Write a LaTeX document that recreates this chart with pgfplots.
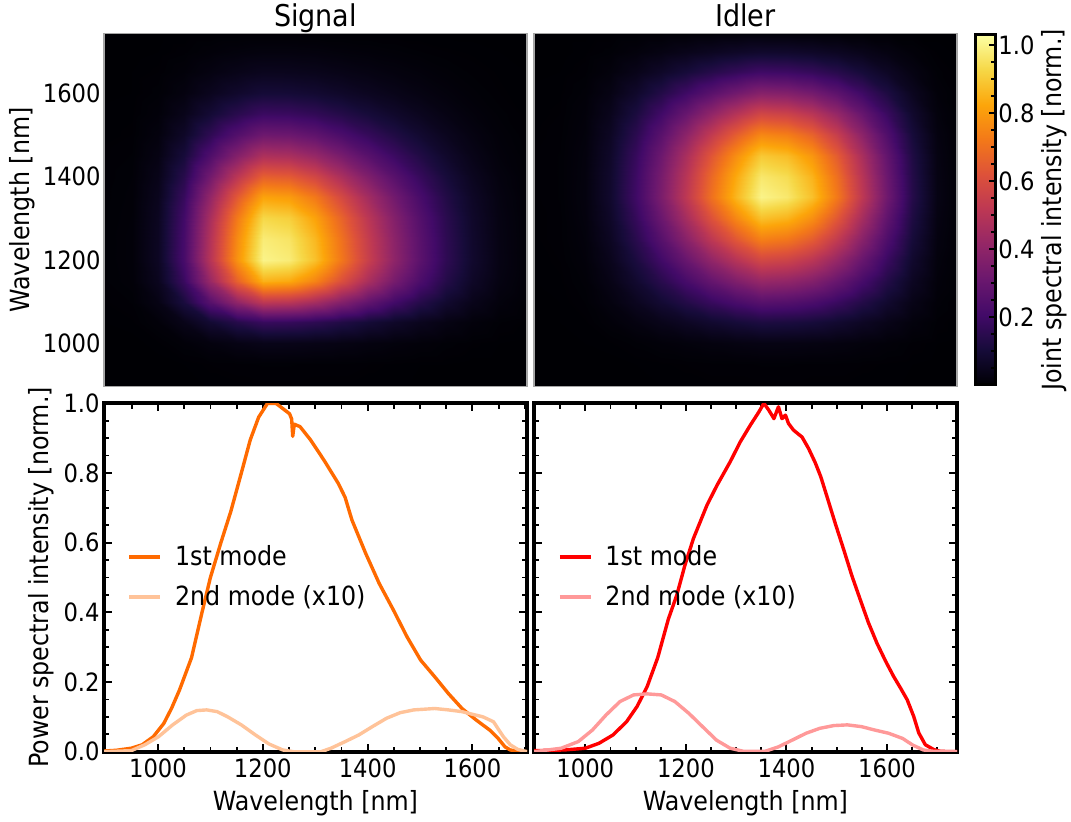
\documentclass[border=0pt]{standalone}
\usepackage{pgfplots}
\pgfplotsset{compat=1.18}
\usepackage{pgfplotstable}
\usepackage{fontspec}
\setmainfont{DejaVu Sans Condensed}
\definecolor{sigA}{RGB}{255,106,0}
\definecolor{sigB}{RGB}{255,195,153}
\definecolor{idlA}{RGB}{255,0,0}
\definecolor{idlB}{RGB}{255,153,153}
\newcommand{\tickfont}{\fontsize{12.6}{15}\selectfont}
\newcommand{\labfont}{\fontsize{13.2}{15}\selectfont}
\newcommand{\titfont}{\fontsize{15}{18}\selectfont}
\pgfplotsset{
  colormap={inferno}{rgb255=(0,0,4) rgb255=(22,11,57) rgb255=(66,10,104) rgb255=(106,23,110) rgb255=(147,38,103) rgb255=(188,55,84) rgb255=(221,81,58) rgb255=(243,120,25) rgb255=(252,165,10) rgb255=(246,215,70) rgb255=(252,255,164)},
  /pgf/number format/assume math mode=true,
  /pgf/number format/1000 sep={},
  heat/.style={
    view={0}{90}, scale only axis, width=211.5pt, height=176.7pt,
    enlargelimits=false, axis on top,
    ymin=896, ymax=1744, zmin=0, zmax=1.03, xtick=\empty, ztick=\empty,
    point meta min=0, point meta max=1.03, colormap name=inferno,
    axis line style={draw=black!35, line width=0.6pt},
    major tick length=0pt, minor tick length=0pt,
    tick label style={font=\tickfont},
    yticklabel style={inner xsep=1.5pt},
    every axis title/.style={at={(axis description cs:0.5,1)}, anchor=base, yshift=3.3pt, font=\titfont},
    every axis y label/.style={at={(axis description cs:-0.193,0.5)}, rotate=90, anchor=center, font=\labfont},
  },
  spec/.style={
    scale only axis, width=211.5pt, height=174.2pt,
    enlargelimits=false,
    ymin=0, ymax=1,
    xtick={1000,1200,1400,1600}, minor xtick={900,950,...,1750},
    ytick={0,0.2,0.4,0.6,0.8,1}, minor ytick={0,0.05,...,1},
    tick pos=both, tick align=inside,
    axis line style={line width=2pt, black},
    major tick style={line width=1pt, draw=black}, minor tick style={line width=0.9pt, draw=black},
    major tick length=3.8pt, minor tick length=2.6pt,
    tick label style={font=\tickfont},
    yticklabel style={/pgf/number format/.cd, fixed, fixed zerofill, precision=1, /tikz/.cd, inner xsep=2pt},
    xlabel={Wavelength [nm]},
    every axis x label/.style={at={(axis description cs:0.5,-0.170)}, anchor=base, font=\labfont},
    every axis y label/.style={at={(axis description cs:-0.148,0.5)}, rotate=90, anchor=center, font=\labfont},
    legend cell align=left,
    legend image code/.code={\draw[#1] (0pt,0pt) -- (15.5pt,0pt);},
    every axis plot/.append style={line width=1.7pt, line join=round},
  },
}
\begin{document}
\pgfplotstableread[row sep=\\]{
x y z\\
850 850 0\\ 950 850 0\\ 1000 850 0\\ 1050 850 0\\ 1100 850 0\\ 1150 850 0\\ 1200 850 0\\ 1250 850 0\\ 1300 850 0\\ 1350 850 0\\ 1400 850 0\\ 1450 850 0\\ 1500 850 0\\ 1550 850 0\\ 1600 850 0\\ 1650 850 0\\ 1700 850 0\\ 1750 850 0\\
850 950 0\\ 950 950 0\\ 1000 950 0\\ 1050 950 0.001\\ 1100 950 0.003\\ 1150 950 0.004\\ 1200 950 0.005\\ 1250 950 0.005\\ 1300 950 0.004\\ 1350 950 0.004\\ 1400 950 0.003\\ 1450 950 0.002\\ 1500 950 0.001\\ 1550 950 0.001\\ 1600 950 0\\ 1650 950 0\\ 1700 950 0\\ 1750 950 0\\
850 1000 0\\ 950 1000 0\\ 1000 1000 0.002\\ 1050 1000 0.009\\ 1100 1000 0.020\\ 1150 1000 0.031\\ 1200 1000 0.040\\ 1250 1000 0.039\\ 1300 1000 0.035\\ 1350 1000 0.029\\ 1400 1000 0.022\\ 1450 1000 0.016\\ 1500 1000 0.011\\ 1550 1000 0.006\\ 1600 1000 0.003\\ 1650 1000 0.001\\ 1700 1000 0\\ 1750 1000 0\\
850 1050 0\\ 950 1050 0.002\\ 1000 1050 0.011\\ 1050 1050 0.040\\ 1100 1050 0.090\\ 1150 1050 0.140\\ 1200 1050 0.180\\ 1250 1050 0.176\\ 1300 1050 0.158\\ 1350 1050 0.130\\ 1400 1050 0.099\\ 1450 1050 0.072\\ 1500 1050 0.049\\ 1550 1050 0.029\\ 1600 1050 0.014\\ 1650 1050 0.005\\ 1700 1050 0.002\\ 1750 1050 0\\
850 1100 0\\ 950 1100 0.005\\ 1000 1100 0.031\\ 1050 1100 0.114\\ 1100 1100 0.260\\ 1150 1100 0.406\\ 1200 1100 0.520\\ 1250 1100 0.510\\ 1300 1100 0.458\\ 1350 1100 0.374\\ 1400 1100 0.286\\ 1450 1100 0.208\\ 1500 1100 0.140\\ 1550 1100 0.083\\ 1600 1100 0.042\\ 1650 1100 0.016\\ 1700 1100 0.005\\ 1750 1100 0\\
850 1150 0\\ 950 1150 0.009\\ 1000 1150 0.051\\ 1050 1150 0.187\\ 1100 1150 0.425\\ 1150 1150 0.663\\ 1200 1150 0.850\\ 1250 1150 0.833\\ 1300 1150 0.748\\ 1350 1150 0.612\\ 1400 1150 0.468\\ 1450 1150 0.340\\ 1500 1150 0.230\\ 1550 1150 0.136\\ 1600 1150 0.068\\ 1650 1150 0.026\\ 1700 1150 0.009\\ 1750 1150 0\\
850 1200 0\\ 950 1200 0.010\\ 1000 1200 0.060\\ 1050 1200 0.220\\ 1100 1200 0.500\\ 1150 1200 0.780\\ 1200 1200 1.000\\ 1250 1200 0.980\\ 1300 1200 0.880\\ 1350 1200 0.720\\ 1400 1200 0.550\\ 1450 1200 0.400\\ 1500 1200 0.270\\ 1550 1200 0.160\\ 1600 1200 0.080\\ 1650 1200 0.030\\ 1700 1200 0.010\\ 1750 1200 0\\
850 1250 0\\ 950 1250 0.010\\ 1000 1250 0.059\\ 1050 1250 0.216\\ 1100 1250 0.490\\ 1150 1250 0.764\\ 1200 1250 0.980\\ 1250 1250 0.960\\ 1300 1250 0.862\\ 1350 1250 0.706\\ 1400 1250 0.539\\ 1450 1250 0.392\\ 1500 1250 0.265\\ 1550 1250 0.157\\ 1600 1250 0.078\\ 1650 1250 0.029\\ 1700 1250 0.010\\ 1750 1250 0\\
850 1300 0\\ 950 1300 0.009\\ 1000 1300 0.056\\ 1050 1300 0.205\\ 1100 1300 0.465\\ 1150 1300 0.725\\ 1200 1300 0.930\\ 1250 1300 0.911\\ 1300 1300 0.818\\ 1350 1300 0.670\\ 1400 1300 0.512\\ 1450 1300 0.372\\ 1500 1300 0.251\\ 1550 1300 0.149\\ 1600 1300 0.074\\ 1650 1300 0.028\\ 1700 1300 0.009\\ 1750 1300 0\\
850 1350 0\\ 950 1350 0.008\\ 1000 1350 0.049\\ 1050 1350 0.180\\ 1100 1350 0.410\\ 1150 1350 0.640\\ 1200 1350 0.820\\ 1250 1350 0.804\\ 1300 1350 0.722\\ 1350 1350 0.590\\ 1400 1350 0.451\\ 1450 1350 0.328\\ 1500 1350 0.221\\ 1550 1350 0.131\\ 1600 1350 0.066\\ 1650 1350 0.025\\ 1700 1350 0.008\\ 1750 1350 0\\
850 1400 0\\ 950 1400 0.007\\ 1000 1400 0.040\\ 1050 1400 0.145\\ 1100 1400 0.330\\ 1150 1400 0.515\\ 1200 1400 0.660\\ 1250 1400 0.647\\ 1300 1400 0.581\\ 1350 1400 0.475\\ 1400 1400 0.363\\ 1450 1400 0.264\\ 1500 1400 0.178\\ 1550 1400 0.106\\ 1600 1400 0.053\\ 1650 1400 0.020\\ 1700 1400 0.007\\ 1750 1400 0\\
850 1450 0\\ 950 1450 0.005\\ 1000 1450 0.029\\ 1050 1450 0.106\\ 1100 1450 0.240\\ 1150 1450 0.374\\ 1200 1450 0.480\\ 1250 1450 0.470\\ 1300 1450 0.422\\ 1350 1450 0.346\\ 1400 1450 0.264\\ 1450 1450 0.192\\ 1500 1450 0.130\\ 1550 1450 0.077\\ 1600 1450 0.038\\ 1650 1450 0.014\\ 1700 1450 0.005\\ 1750 1450 0\\
850 1500 0\\ 950 1500 0.003\\ 1000 1500 0.019\\ 1050 1500 0.070\\ 1100 1500 0.160\\ 1150 1500 0.250\\ 1200 1500 0.320\\ 1250 1500 0.314\\ 1300 1500 0.282\\ 1350 1500 0.230\\ 1400 1500 0.176\\ 1450 1500 0.128\\ 1500 1500 0.086\\ 1550 1500 0.051\\ 1600 1500 0.026\\ 1650 1500 0.010\\ 1700 1500 0.003\\ 1750 1500 0\\
850 1550 0\\ 950 1550 0.002\\ 1000 1550 0.011\\ 1050 1550 0.042\\ 1100 1550 0.095\\ 1150 1550 0.148\\ 1200 1550 0.190\\ 1250 1550 0.186\\ 1300 1550 0.167\\ 1350 1550 0.137\\ 1400 1550 0.105\\ 1450 1550 0.076\\ 1500 1550 0.051\\ 1550 1550 0.030\\ 1600 1550 0.015\\ 1650 1550 0.006\\ 1700 1550 0.002\\ 1750 1550 0\\
850 1600 0\\ 950 1600 0.001\\ 1000 1600 0.006\\ 1050 1600 0.022\\ 1100 1600 0.050\\ 1150 1600 0.078\\ 1200 1600 0.100\\ 1250 1600 0.098\\ 1300 1600 0.088\\ 1350 1600 0.072\\ 1400 1600 0.055\\ 1450 1600 0.040\\ 1500 1600 0.027\\ 1550 1600 0.016\\ 1600 1600 0.008\\ 1650 1600 0.003\\ 1700 1600 0.001\\ 1750 1600 0\\
850 1650 0\\ 950 1650 0.001\\ 1000 1650 0.003\\ 1050 1650 0.011\\ 1100 1650 0.025\\ 1150 1650 0.039\\ 1200 1650 0.050\\ 1250 1650 0.049\\ 1300 1650 0.044\\ 1350 1650 0.036\\ 1400 1650 0.028\\ 1450 1650 0.020\\ 1500 1650 0.014\\ 1550 1650 0.008\\ 1600 1650 0.004\\ 1650 1650 0.002\\ 1700 1650 0.001\\ 1750 1650 0\\
850 1700 0\\ 950 1700 0\\ 1000 1700 0.001\\ 1050 1700 0.004\\ 1100 1700 0.010\\ 1150 1700 0.016\\ 1200 1700 0.020\\ 1250 1700 0.020\\ 1300 1700 0.018\\ 1350 1700 0.014\\ 1400 1700 0.011\\ 1450 1700 0.008\\ 1500 1700 0.005\\ 1550 1700 0.003\\ 1600 1700 0.002\\ 1650 1700 0.001\\ 1700 1700 0\\ 1750 1700 0\\
850 1750 0\\ 950 1750 0\\ 1000 1750 0\\ 1050 1750 0\\ 1100 1750 0\\ 1150 1750 0\\ 1200 1750 0\\ 1250 1750 0\\ 1300 1750 0\\ 1350 1750 0\\ 1400 1750 0\\ 1450 1750 0\\ 1500 1750 0\\ 1550 1750 0\\ 1600 1750 0\\ 1650 1750 0\\ 1700 1750 0\\ 1750 1750 0\\
}\sigtab
\pgfplotstableread[row sep=\\]{
x y z\\
850 850 0\\ 950 850 0\\ 1000 850 0\\ 1050 850 0\\ 1100 850 0\\ 1150 850 0\\ 1200 850 0\\ 1250 850 0\\ 1300 850 0\\ 1350 850 0\\ 1400 850 0\\ 1450 850 0\\ 1500 850 0\\ 1550 850 0\\ 1600 850 0\\ 1650 850 0\\ 1700 850 0\\ 1750 850 0\\
850 950 0\\ 950 950 0\\ 1000 950 0\\ 1050 950 0\\ 1100 950 0.001\\ 1150 950 0.002\\ 1200 950 0.003\\ 1250 950 0.004\\ 1300 950 0.004\\ 1350 950 0.005\\ 1400 950 0.005\\ 1450 950 0.004\\ 1500 950 0.004\\ 1550 950 0.003\\ 1600 950 0.002\\ 1650 950 0.001\\ 1700 950 0\\ 1750 950 0\\
850 1000 0\\ 950 1000 0\\ 1000 1000 0.001\\ 1050 1000 0.002\\ 1100 1000 0.006\\ 1150 1000 0.011\\ 1200 1000 0.016\\ 1250 1000 0.021\\ 1300 1000 0.026\\ 1350 1000 0.030\\ 1400 1000 0.029\\ 1450 1000 0.026\\ 1500 1000 0.022\\ 1550 1000 0.016\\ 1600 1000 0.010\\ 1650 1000 0.004\\ 1700 1000 0.001\\ 1750 1000 0\\
850 1050 0\\ 950 1050 0.001\\ 1000 1050 0.002\\ 1050 1050 0.010\\ 1100 1050 0.024\\ 1150 1050 0.042\\ 1200 1050 0.062\\ 1250 1050 0.084\\ 1300 1050 0.103\\ 1350 1050 0.120\\ 1400 1050 0.116\\ 1450 1050 0.106\\ 1500 1050 0.086\\ 1550 1050 0.062\\ 1600 1050 0.038\\ 1650 1050 0.017\\ 1700 1050 0.004\\ 1750 1050 0\\
850 1100 0\\ 950 1100 0.001\\ 1000 1100 0.005\\ 1050 1100 0.021\\ 1100 1100 0.052\\ 1150 1100 0.091\\ 1200 1100 0.135\\ 1250 1100 0.182\\ 1300 1100 0.224\\ 1350 1100 0.260\\ 1400 1100 0.252\\ 1450 1100 0.229\\ 1500 1100 0.187\\ 1550 1100 0.135\\ 1600 1100 0.083\\ 1650 1100 0.036\\ 1700 1100 0.008\\ 1750 1100 0\\
850 1150 0\\ 950 1150 0.002\\ 1000 1150 0.008\\ 1050 1150 0.034\\ 1100 1150 0.084\\ 1150 1150 0.147\\ 1200 1150 0.218\\ 1250 1150 0.294\\ 1300 1150 0.361\\ 1350 1150 0.420\\ 1400 1150 0.407\\ 1450 1150 0.370\\ 1500 1150 0.302\\ 1550 1150 0.218\\ 1600 1150 0.134\\ 1650 1150 0.059\\ 1700 1150 0.013\\ 1750 1150 0\\
850 1200 0\\ 950 1200 0.003\\ 1000 1200 0.012\\ 1050 1200 0.046\\ 1100 1200 0.116\\ 1150 1200 0.203\\ 1200 1200 0.302\\ 1250 1200 0.406\\ 1300 1200 0.499\\ 1350 1200 0.580\\ 1400 1200 0.563\\ 1450 1200 0.510\\ 1500 1200 0.418\\ 1550 1200 0.302\\ 1600 1200 0.186\\ 1650 1200 0.081\\ 1700 1200 0.017\\ 1750 1200 0\\
850 1250 0\\ 950 1250 0.004\\ 1000 1250 0.015\\ 1050 1250 0.059\\ 1100 1250 0.148\\ 1150 1250 0.259\\ 1200 1250 0.385\\ 1250 1250 0.518\\ 1300 1250 0.636\\ 1350 1250 0.740\\ 1400 1250 0.718\\ 1450 1250 0.651\\ 1500 1250 0.533\\ 1550 1250 0.385\\ 1600 1250 0.237\\ 1650 1250 0.104\\ 1700 1250 0.022\\ 1750 1250 0\\
850 1300 0\\ 950 1300 0.004\\ 1000 1300 0.018\\ 1050 1300 0.070\\ 1100 1300 0.176\\ 1150 1300 0.308\\ 1200 1300 0.458\\ 1250 1300 0.616\\ 1300 1300 0.757\\ 1350 1300 0.880\\ 1400 1300 0.854\\ 1450 1300 0.774\\ 1500 1300 0.634\\ 1550 1300 0.458\\ 1600 1300 0.282\\ 1650 1300 0.123\\ 1700 1300 0.026\\ 1750 1300 0\\
850 1350 0\\ 950 1350 0.005\\ 1000 1350 0.020\\ 1050 1350 0.080\\ 1100 1350 0.200\\ 1150 1350 0.350\\ 1200 1350 0.520\\ 1250 1350 0.700\\ 1300 1350 0.860\\ 1350 1350 1.000\\ 1400 1350 0.970\\ 1450 1350 0.880\\ 1500 1350 0.720\\ 1550 1350 0.520\\ 1600 1350 0.320\\ 1650 1350 0.140\\ 1700 1350 0.030\\ 1750 1350 0\\
850 1400 0\\ 950 1400 0.005\\ 1000 1400 0.019\\ 1050 1400 0.078\\ 1100 1400 0.194\\ 1150 1400 0.340\\ 1200 1400 0.504\\ 1250 1400 0.679\\ 1300 1400 0.834\\ 1350 1400 0.970\\ 1400 1400 0.941\\ 1450 1400 0.854\\ 1500 1400 0.698\\ 1550 1400 0.504\\ 1600 1400 0.310\\ 1650 1400 0.136\\ 1700 1400 0.029\\ 1750 1400 0\\
850 1450 0\\ 950 1450 0.005\\ 1000 1450 0.018\\ 1050 1450 0.072\\ 1100 1450 0.180\\ 1150 1450 0.315\\ 1200 1450 0.468\\ 1250 1450 0.630\\ 1300 1450 0.774\\ 1350 1450 0.900\\ 1400 1450 0.873\\ 1450 1450 0.792\\ 1500 1450 0.648\\ 1550 1450 0.468\\ 1600 1450 0.288\\ 1650 1450 0.126\\ 1700 1450 0.027\\ 1750 1450 0\\
850 1500 0\\ 950 1500 0.004\\ 1000 1500 0.015\\ 1050 1500 0.061\\ 1100 1500 0.152\\ 1150 1500 0.266\\ 1200 1500 0.395\\ 1250 1500 0.532\\ 1300 1500 0.654\\ 1350 1500 0.760\\ 1400 1500 0.737\\ 1450 1500 0.669\\ 1500 1500 0.547\\ 1550 1500 0.395\\ 1600 1500 0.243\\ 1650 1500 0.106\\ 1700 1500 0.023\\ 1750 1500 0\\
850 1550 0\\ 950 1550 0.003\\ 1000 1550 0.012\\ 1050 1550 0.046\\ 1100 1550 0.116\\ 1150 1550 0.203\\ 1200 1550 0.302\\ 1250 1550 0.406\\ 1300 1550 0.499\\ 1350 1550 0.580\\ 1400 1550 0.563\\ 1450 1550 0.510\\ 1500 1550 0.418\\ 1550 1550 0.302\\ 1600 1550 0.186\\ 1650 1550 0.081\\ 1700 1550 0.017\\ 1750 1550 0\\
850 1600 0\\ 950 1600 0.002\\ 1000 1600 0.008\\ 1050 1600 0.030\\ 1100 1600 0.076\\ 1150 1600 0.133\\ 1200 1600 0.198\\ 1250 1600 0.266\\ 1300 1600 0.327\\ 1350 1600 0.380\\ 1400 1600 0.369\\ 1450 1600 0.334\\ 1500 1600 0.274\\ 1550 1600 0.198\\ 1600 1600 0.122\\ 1650 1600 0.053\\ 1700 1600 0.011\\ 1750 1600 0\\
850 1650 0\\ 950 1650 0.001\\ 1000 1650 0.004\\ 1050 1650 0.016\\ 1100 1650 0.040\\ 1150 1650 0.070\\ 1200 1650 0.104\\ 1250 1650 0.140\\ 1300 1650 0.172\\ 1350 1650 0.200\\ 1400 1650 0.194\\ 1450 1650 0.176\\ 1500 1650 0.144\\ 1550 1650 0.104\\ 1600 1650 0.064\\ 1650 1650 0.028\\ 1700 1650 0.006\\ 1750 1650 0\\
850 1700 0\\ 950 1700 0\\ 1000 1700 0.002\\ 1050 1700 0.006\\ 1100 1700 0.016\\ 1150 1700 0.028\\ 1200 1700 0.042\\ 1250 1700 0.056\\ 1300 1700 0.069\\ 1350 1700 0.080\\ 1400 1700 0.078\\ 1450 1700 0.070\\ 1500 1700 0.058\\ 1550 1700 0.042\\ 1600 1700 0.026\\ 1650 1700 0.011\\ 1700 1700 0.002\\ 1750 1700 0\\
850 1750 0\\ 950 1750 0\\ 1000 1750 0\\ 1050 1750 0\\ 1100 1750 0\\ 1150 1750 0\\ 1200 1750 0\\ 1250 1750 0\\ 1300 1750 0\\ 1350 1750 0\\ 1400 1750 0\\ 1450 1750 0\\ 1500 1750 0\\ 1550 1750 0\\ 1600 1750 0\\ 1650 1750 0\\ 1700 1750 0\\ 1750 1750 0\\
}\idltab
\begin{tikzpicture}
\path[use as bounding box] (0,0) rectangle (535.5pt,410.5pt);
% Signal heatmap
\begin{axis}[heat, at={(52pt,217.2pt)}, anchor=south west,
  xmin=897, xmax=1704, ytick={1000,1200,1400,1600},
  title={Signal}, ylabel={Wavelength [nm]}]
\addplot3[surf, shader=interp, mesh/cols=18] table {\sigtab};
\end{axis}
% Idler heatmap with colorbar
\begin{axis}[heat, at={(267pt,217.2pt)}, anchor=south west,
  xmin=898, xmax=1739, ytick=\empty, title={Idler},
  colorbar, colorbar shift/.style={xshift=9pt, yshift=-0.85pt},
  colorbar style={
    at={(parent axis.north east)}, anchor=north west, axis on top,
    scale only axis, width=10pt, height=175pt,
    ytick={0.2,0.4,0.6,0.8,1}, minor ytick={0.05,0.1,...,1.0},
    ytick pos=right, yticklabel pos=right, tick align=inside,
    major tick length=3.2pt, minor tick length=2pt,
    major tick style={line width=0.9pt, draw=black}, minor tick style={line width=0.8pt, draw=black},
    axis line style={line width=1.5pt, draw=black},
    yticklabel style={font=\tickfont, /pgf/number format/.cd, fixed, fixed zerofill, precision=1, /tikz/.cd, inner xsep=1.5pt},
    ylabel={Joint spectral intensity [norm.]},
    every axis y label/.style={at={(axis description cs:3.95,0.5)}, rotate=90, anchor=center, font=\labfont},
  }]
\addplot3[surf, shader=interp, mesh/cols=18] table {\idltab};
\end{axis}
% Signal spectra
\begin{axis}[spec, at={(52pt,34.65pt)}, anchor=south west,
  xmin=897, xmax=1704,
  ylabel={Power spectral intensity [norm.]},
  legend style={draw=none, fill=none, inner sep=0pt, at={(axis description cs:0.055,0.501)}, anchor=west,
    font=\labfont, row sep={20pt,between origins}, column sep=5.5pt, nodes={inner sep=1pt}}]
\addplot[color=sigA] coordinates {
(897,0.002)(920,0.004)(949,0.010)(970,0.020)(991,0.043)(1011,0.081)(1026,0.125)(1041,0.177)(1064,0.27)(1084,0.40)(1100,0.50)(1120,0.60)(1139,0.69)(1159,0.80)(1176,0.895)(1192,0.96)(1209,1.0)(1225,1.0)(1238,0.985)(1251,0.97)(1255,0.955)(1257,0.905)(1260,0.94)(1271,0.933)(1291,0.895)(1317,0.836)(1344,0.77)(1357,0.73)(1370,0.665)(1396,0.57)(1422,0.483)(1449,0.407)(1475,0.33)(1501,0.263)(1528,0.215)(1554,0.167)(1580,0.124)(1607,0.091)(1633,0.062)(1649,0.038)(1662,0.014)(1672,0.005)(1690,0.001)(1704,0.0)
};
\addlegendentry{1st mode}
\addplot[color=sigB] coordinates {
(897,0.0)(949,0.003)(975,0.02)(1001,0.043)(1028,0.077)(1054,0.105)(1074,0.118)(1093,0.12)(1113,0.115)(1133,0.10)(1159,0.077)(1186,0.048)(1212,0.022)(1238,0.005)(1258,0.0)(1311,0.0)(1330,0.01)(1357,0.029)(1383,0.048)(1409,0.072)(1436,0.096)(1462,0.112)(1488,0.12)(1528,0.124)(1554,0.12)(1580,0.115)(1620,0.10)(1640,0.086)(1659,0.043)(1672,0.02)(1686,0.007)(1699,0.002)(1704,0.0)
};
\addlegendentry{2nd mode (x10)}
\end{axis}
% Idler spectra
\begin{axis}[spec, at={(267pt,34.65pt)}, anchor=south west,
  xmin=898, xmax=1739, yticklabel=\empty,
  legend style={draw=none, fill=none, inner sep=0pt, at={(axis description cs:0.056,0.501)}, anchor=west,
    font=\labfont, row sep={20pt,between origins}, column sep=5.5pt, nodes={inner sep=1pt}}]
\addplot[color=idlA] coordinates {
(898,0.003)(959,0.005)(1000,0.01)(1027,0.024)(1055,0.048)(1082,0.086)(1103,0.13)(1123,0.187)(1144,0.27)(1165,0.38)(1182,0.45)(1198,0.535)(1215,0.612)(1242,0.708)(1262,0.765)(1288,0.832)(1308,0.889)(1328,0.937)(1345,0.975)(1355,1.0)(1365,0.98)(1375,0.956)(1384,0.99)(1391,0.956)(1398,0.966)(1404,0.942)(1414,0.923)(1431,0.903)(1444,0.87)(1457,0.83)(1468,0.79)(1481,0.73)(1497,0.655)(1514,0.579)(1530,0.505)(1547,0.435)(1563,0.37)(1580,0.311)(1597,0.26)(1613,0.216)(1627,0.182)(1640,0.149)(1653,0.101)(1663,0.054)(1676,0.02)(1693,0.006)(1706,0.001)(1739,0.0)
};
\addlegendentry{1st mode}
\addplot[color=idlB] coordinates {
(898,0.0)(952,0.01)(986,0.029)(1014,0.062)(1041,0.105)(1069,0.144)(1096,0.163)(1123,0.166)(1151,0.163)(1178,0.144)(1206,0.11)(1233,0.072)(1261,0.033)(1288,0.01)(1315,0.001)(1357,0.001)(1384,0.014)(1411,0.033)(1439,0.053)(1466,0.067)(1494,0.075)(1521,0.077)(1549,0.072)(1576,0.062)(1603,0.053)(1631,0.038)(1651,0.019)(1672,0.005)(1693,0.001)(1739,0.0)
};
\addlegendentry{2nd mode (x10)}
\end{axis}
\end{tikzpicture}
\end{document}
